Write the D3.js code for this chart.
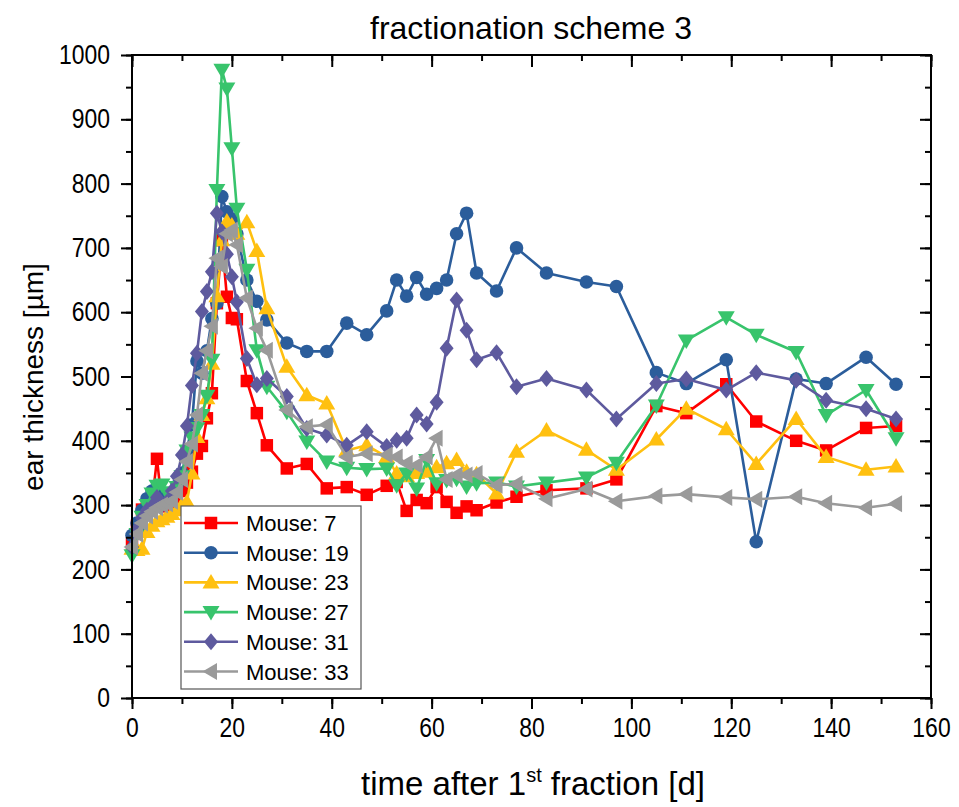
<!DOCTYPE html>
<html>
<head>
<meta charset="utf-8">
<script src="https://cdn.jsdelivr.net/npm/d3@7"></script>
<style>
  html, body { margin: 0; padding: 0; background: #fff; }
  svg text { font-family: "Liberation Sans", Arial, sans-serif; fill: #000; }
</style>
</head>
<body>
<svg id="chart" width="959" height="807"></svg>
<script>
// Measurement days after the first fraction
const days = [0,1,2,3,4,5,6,7,8,9,10,11,12,13,14,15,16,17,18,19,20,21,
  23,25,27,31,35,39,43,47,51,53,55,57,59,61,63,65,67,69,73,77,83,91,97,
  105,111,119,125,133,139,147,153];

// Ear thickness [µm] per mouse
const mouse7 = [240,268,293,295,303,372,302,298,300,310,322,335,352,380,392,435,474,614,712,624,591,589,
  493,443,393,357,364,326,328,316,330,336,291,308,303,328,305,288,298,292,304,313,323,326,340,
  454,443,488,430,400,385,420,423];
const mouse19 = [253,272,292,310,322,328,318,308,318,330,350,385,425,524,505,540,590,614,780,756,745,722,
  650,617,588,552,539,539,583,565,602,650,625,654,628,637,650,722,754,661,633,700,661,647,640,
  506,489,526,243,496,489,530,488];
const mouse23 = [232,230,232,258,268,275,278,282,286,292,300,305,349,406,440,466,520,625,712,741,735,722,
  740,695,606,515,471,458,385,393,375,349,345,350,352,359,365,370,352,348,318,383,416,386,355,
  402,450,418,364,434,375,355,360];
const mouse27 = [222,255,282,300,318,330,332,320,315,328,345,385,405,420,440,470,526,790,977,948,855,761,
  666,541,484,445,399,368,358,356,357,331,349,326,370,334,339,341,329,334,335,329,335,343,366,
  455,556,592,565,538,440,479,404];
const mouse31 = [235,262,280,292,298,312,300,305,322,345,378,423,486,536,601,632,663,754,725,690,655,616,
  528,487,497,469,419,409,393,414,391,401,404,440,426,460,544,619,572,526,537,484,497,479,434,
  489,496,479,506,494,463,450,434];
const mouse33 = [235,255,272,283,290,296,300,302,306,320,340,368,395,440,505,540,578,684,671,722,728,705,
  622,575,541,448,422,425,375,380,378,375,365,362,375,404,340,347,347,349,331,333,310,325,306,
  314,317,312,309,313,303,296,302];

const seriesNames = ["Mouse: 7","Mouse: 19","Mouse: 23","Mouse: 27","Mouse: 31","Mouse: 33"];
const seriesValues = [mouse7, mouse19, mouse23, mouse27, mouse31, mouse33];
const seriesColors = ["#FF0000","#2B5D9B","#FFC010","#38C46C","#5E5A9E","#9A9A9A"];
const seriesSymbols = ["square","circle","triangleUp","triangleDown","diamond","triangleLeft"];

const xTicks = [0,20,40,60,80,100,120,140,160];
const yTicks = [0,100,200,300,400,500,600,700,800,900,1000];

const svg = d3.select("#chart");
const plotL = 132, plotR = 931, plotT = 55, plotB = 698;

const x = d3.scaleLinear().domain([0,160]).range([plotL,plotR]);
const y = d3.scaleLinear().domain([0,1000]).range([plotB,plotT]);

// Marker shapes
function symbolPath(kind) {
  switch (kind) {
    case "square": return d3.symbol(d3.symbolSquare, 156)();
    case "circle": return d3.symbol(d3.symbolCircle, 145)();
    case "diamond": return "M0,-8.5L7,0L0,8.5L-7,0Z";
    case "triangleUp": return "M0,-8.5L8.5,6L-8.5,6Z";
    case "triangleDown": return "M0,8.5L8.5,-6L-8.5,-6Z";
    case "triangleLeft": return "M-8.5,0L6,-8.5L6,8.5Z";
  }
}

// Data series
const plot = svg.append("g");
const line = d3.line().x((d,i) => x(days[i])).y(d => y(d));
seriesValues.forEach((vals, k) => {
  const g = plot.append("g");
  g.append("path").datum(vals)
    .attr("d", line)
    .attr("fill","none")
    .attr("stroke", seriesColors[k])
    .attr("stroke-width", 2.6)
    .attr("stroke-linejoin","round");
  g.selectAll("path.m").data(vals).enter().append("path")
    .attr("class","m")
    .attr("d", symbolPath(seriesSymbols[k]))
    .attr("transform", (d,i) => `translate(${x(days[i])},${y(d)})`)
    .attr("fill", seriesColors[k]);
});

// Axes: left/bottom ticks outward, top/right ticks inward
const xMinor = d3.range(0,161,10);
const yMinor = d3.range(0,1001,50);
const labelSize = 27, labelSquash = 0.85;

const axB = d3.axisBottom(x).tickValues(xTicks).tickSize(11).tickPadding(9).tickFormat(d3.format("d"));
const axBm = d3.axisBottom(x).tickValues(xMinor).tickSize(6).tickFormat("");
const axT = d3.axisBottom(x).tickValues(xTicks).tickSize(12).tickFormat("");
const axTm = d3.axisBottom(x).tickValues(xMinor).tickSize(6).tickFormat("");
const axL = d3.axisLeft(y).tickValues(yTicks).tickSize(11).tickPadding(11).tickFormat(d3.format("d"));
const axLm = d3.axisLeft(y).tickValues(yMinor).tickSize(6).tickFormat("");
const axR = d3.axisLeft(y).tickValues(yTicks).tickSize(11).tickFormat("");
const axRm = d3.axisLeft(y).tickValues(yMinor).tickSize(6).tickFormat("");

function styleAxis(g, fs) {
  g.select(".domain").remove();
  g.selectAll("line").attr("stroke","#000").attr("stroke-width",2);
  g.selectAll("text").attr("font-size", fs).attr("fill","#000")
    .attr("font-family","'Liberation Sans', Arial, sans-serif")
    .each(function() {
      // narrow the glyphs horizontally while keeping the anchor point fixed
      const t = d3.select(this);
      const x0 = +t.attr("x") || 0;
      t.attr("transform", `translate(${x0*(1-labelSquash)},0) scale(${labelSquash},1)`);
    });
}

svg.append("g").attr("transform",`translate(0,${plotB})`).call(axBm).call(g=>styleAxis(g,0));
svg.append("g").attr("transform",`translate(0,${plotB})`).call(axB).call(g=>styleAxis(g,labelSize));
svg.append("g").attr("transform",`translate(0,${plotT})`).call(axTm).call(g=>styleAxis(g,0));
svg.append("g").attr("transform",`translate(0,${plotT})`).call(axT).call(g=>styleAxis(g,0));
svg.append("g").attr("transform",`translate(${plotL},0)`).call(axLm).call(g=>styleAxis(g,0));
svg.append("g").attr("transform",`translate(${plotL},0)`).call(axL).call(g=>styleAxis(g,labelSize));
svg.append("g").attr("transform",`translate(${plotR},0)`).call(axRm).call(g=>styleAxis(g,0));
svg.append("g").attr("transform",`translate(${plotR},0)`).call(axR).call(g=>styleAxis(g,0));

// Frame
svg.append("rect").attr("x",plotL).attr("y",plotT).attr("width",plotR-plotL).attr("height",plotB-plotT)
  .attr("fill","none").attr("stroke","#000").attr("stroke-width",2);

// Titles
svg.append("text").attr("x",531).attr("y",39).attr("text-anchor","middle")
  .attr("font-size",32).text("fractionation scheme 3");

const xt = svg.append("text").attr("x",533).attr("y",795).attr("text-anchor","middle").attr("font-size",33);
xt.append("tspan").text("time after 1");
xt.append("tspan").attr("font-size",20).attr("dy",-13).text("st");
xt.append("tspan").attr("dy",13).text(" fraction [d]");

svg.append("text").attr("transform","translate(43,377) rotate(-90)").attr("text-anchor","middle")
  .attr("font-size",28).text("ear thickness [µm]");

// Legend
const lg = svg.append("g");
lg.append("rect").attr("x",181).attr("y",506).attr("width",180).attr("height",183)
  .attr("fill","#fff").attr("stroke","#555").attr("stroke-width",1.2);
seriesNames.forEach((name,k) => {
  const yy = 523 + k*29.7;
  lg.append("line").attr("x1",184).attr("x2",238).attr("y1",yy).attr("y2",yy)
    .attr("stroke",seriesColors[k]).attr("stroke-width",2.6);
  lg.append("path").attr("d",symbolPath(seriesSymbols[k]))
    .attr("transform",`translate(211,${yy})`).attr("fill",seriesColors[k]);
  lg.append("text").attr("x",246).attr("y",yy+8).attr("font-size",22).text(name);
});
</script>
</body>
</html>
